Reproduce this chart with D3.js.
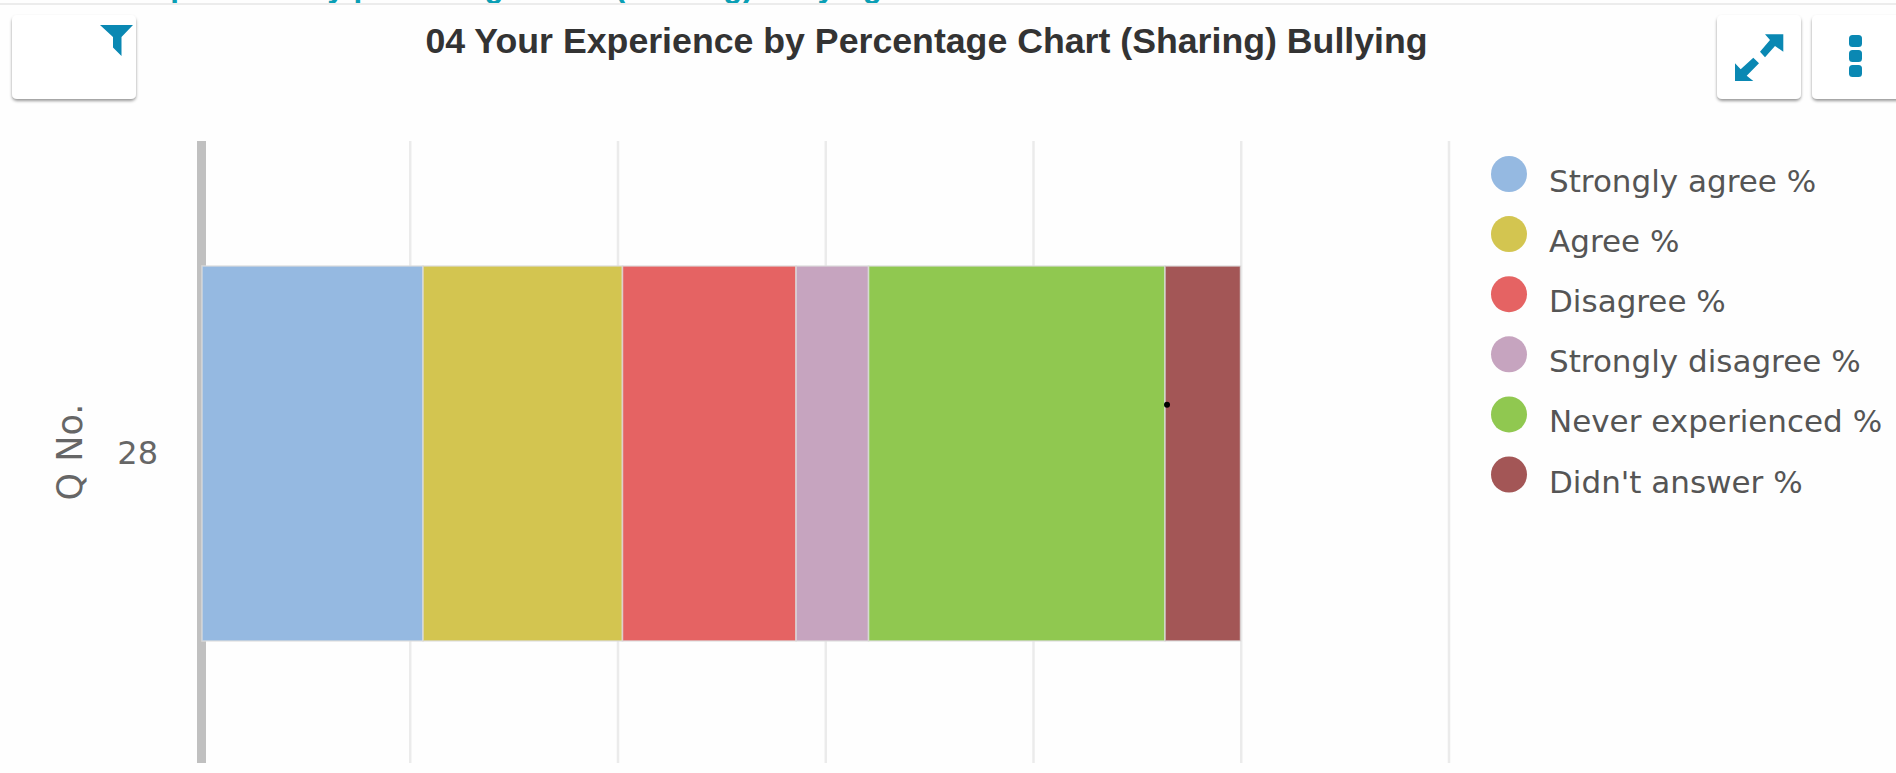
<!DOCTYPE html>
<html><head><meta charset="utf-8">
<script src="https://cdn.jsdelivr.net/npm/d3@7"></script>
<style>
html,body{margin:0;padding:0;background:#fefefe;overflow:hidden}
svg{display:block}
text{font-family:"DejaVu Sans",sans-serif}
.bold{font-family:"Liberation Sans",Arial,sans-serif;font-weight:700}
</style></head><body><svg id="c" width="1896" height="773"></svg>
<script>
const title = "04 Your Experience by Percentage Chart (Sharing) Bullying";
const pageHeading = "04 Your Experience by percentage chart (Sharing) bullying";
const categories = ["28"];
const seriesNames = ["Strongly agree %","Agree %","Disagree %","Strongly disagree %","Never experienced %","Didn't answer %"];
const seriesColors = ["#95b9e1","#d3c550","#e56363","#c6a4bf","#90c850","#a35656"];
const seriesValues = [21.28,19.2,16.71,6.98,28.54,7.27];
const xTicks = [0,20,40,60,80,100,120];
const yAxisTitle = "Q No.";

const svg = d3.select("#c");
const M = {l:202,r:1448.5,t:141,b:763};
const x = d3.scaleLinear().domain([0,120]).range([M.l,M.r]);
const y = d3.scaleBand().domain(categories).range([M.t,M.b]).paddingInner(0.2477).paddingOuter(0.2477).align(0.506);

// page chrome
svg.append("text").attr("class","bold").attr("x",11).attr("y",-3.5).attr("font-size",31.4).attr("fill","#0a9fb5").text(pageHeading);
svg.append("rect").attr("x",0).attr("y",3).attr("width",1896).attr("height",2).attr("fill","#ececec");

const defs = svg.append("defs");
const f = defs.append("filter").attr("id","sh").attr("x","-10%").attr("y","-10%").attr("width","120%").attr("height","125%");
f.append("feDropShadow").attr("dx",0).attr("dy",2).attr("stdDeviation",1.6).attr("flood-color","#000").attr("flood-opacity",0.4);
const btn = [[12,15,124,84],[1717,15,84,84],[1812,15,90,84]];
svg.selectAll("rect.btn").data(btn).join("rect").attr("class","btn")
  .attr("x",d=>d[0]).attr("y",d=>d[1]).attr("width",d=>d[2]).attr("height",d=>d[3]).attr("rx",5)
  .attr("fill","#fff").attr("filter","url(#sh)");
const iconC = "#0a88b3";
svg.append("path").attr("d","M100 25H133L121.5 37V56L113 47.5V37Z").attr("fill",iconC);
// expand icon
svg.append("path").attr("fill",iconC).attr("d","M1783.3 34.3V51.7L1775 46L1765 57.3L1760 51.7L1770 40L1765 34.3Z");
svg.append("path").attr("fill",iconC).attr("d","M1735 81V63.3L1740.7 69.3L1753.3 57.7L1759 63.3L1746.7 75.7L1753.3 81Z");
// menu dots
svg.selectAll("rect.dot").data([35,50,65]).join("rect").attr("class","dot")
  .attr("x",1849).attr("y",d=>d).attr("width",13).attr("height",12).attr("rx",3.5).attr("fill",iconC);

// title
svg.append("text").attr("class","bold").attr("x",926.5).attr("y",53).attr("text-anchor","middle")
  .attr("font-size",35.7).attr("fill","#333").text(title);

// grid via axis
const gx = svg.append("g").attr("transform",`translate(0,${M.b})`)
  .call(d3.axisBottom(x).tickValues(xTicks).tickSize(-(M.b-M.t)).tickFormat(""));
gx.select(".domain").remove();
gx.selectAll("line").attr("stroke","#ebebeb").attr("stroke-width",2.5);

// y axis, under the bars
const ga = svg.append("g").attr("transform",`translate(${M.l},0)`)
  .call(d3.axisLeft(y).tickSize(0).tickPadding(44));
ga.select(".domain").attr("stroke","#c0c0c0").attr("stroke-width",9)
  .attr("d",`M0,${M.t}V${M.b}`).attr("transform","translate(-0.5,0)");
ga.selectAll("text").attr("font-size",32).attr("fill","#666").style("font-family",'"DejaVu Sans",sans-serif');

// stacked bars
const rows = categories.map(c=>{
  const o={cat:c}; seriesNames.forEach((s,i)=>o[s]=seriesValues[i]); return o;});
const stack = d3.stack().keys(seriesNames)(rows);
svg.append("g").selectAll("g").data(stack).join("g")
  .attr("fill",(d,i)=>seriesColors[i])
  .selectAll("rect").data(d=>d).join("rect")
  .attr("x",d=>x(d[0])).attr("width",d=>x(d[1])-x(d[0]))
  .attr("y",d=>y(d.data.cat)).attr("height",y.bandwidth())
  .attr("stroke","#dddddd").attr("stroke-opacity",0.75).attr("stroke-width",1.6);

svg.append("text").attr("transform","translate(82,452) rotate(-90)").attr("text-anchor","middle")
  .attr("font-size",35).attr("fill","#666").text(yAxisTitle);

// stray point on the boundary
svg.append("circle").attr("cx",x(d3.sum(seriesValues.slice(0,5)))+2).attr("cy",y("28")+y.bandwidth()*0.37).attr("r",3).attr("fill","#000");

// legend
const lg = svg.append("g").selectAll("g").data(seriesNames).join("g")
  .attr("transform",(d,i)=>`translate(1509,${174+i*60.1})`);
lg.append("circle").attr("r",18).attr("fill",(d,i)=>seriesColors[i]);
lg.append("text").attr("x",40).attr("y",18).attr("font-size",31).attr("fill","#555").text(d=>d);
</script></body></html>
